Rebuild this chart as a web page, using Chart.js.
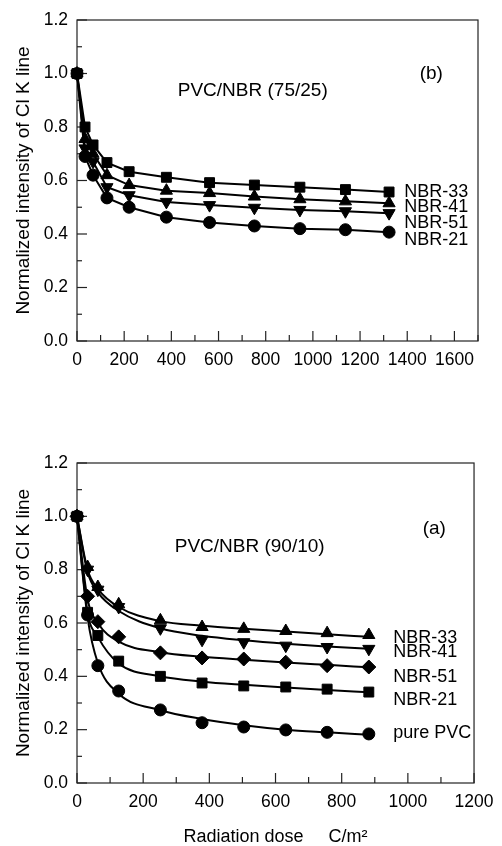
<!DOCTYPE html>
<html>
<head>
<meta charset="utf-8">
<script src="https://cdn.jsdelivr.net/npm/chart.js@4.4.0/dist/chart.umd.min.js"></script>
<style>
  html, body { margin: 0; padding: 0; background: #fff; }
  #wrap { position: relative; width: 502px; height: 846px; overflow: hidden; background: #fff; }
  canvas { position: absolute; left: 0; }
  #cTop { top: 0; }
  #cBot { top: 420px; }
</style>
</head>
<body>
<div id="wrap">
  <canvas id="cTop" width="502" height="400"></canvas>
  <canvas id="cBot" width="502" height="426"></canvas>
</div>
<script>
// ---------- DATA: panel (b) PVC/NBR (75/25) ----------
const topDose  = [0, 34, 68, 127, 221, 379, 562, 752, 945, 1138, 1323];
const topNBR33 = [1.0, 0.800, 0.733, 0.667, 0.633, 0.612, 0.592, 0.583, 0.575, 0.566, 0.557];
const topNBR41 = [1.0, 0.755, 0.700, 0.620, 0.583, 0.562, 0.553, 0.540, 0.530, 0.522, 0.515];
const topNBR51 = [1.0, 0.720, 0.670, 0.575, 0.545, 0.520, 0.508, 0.498, 0.490, 0.485, 0.478];
const topNBR21 = [1.0, 0.690, 0.620, 0.535, 0.500, 0.463, 0.443, 0.430, 0.420, 0.416, 0.407];

// ---------- DATA: panel (a) PVC/NBR (90/10) — measured points ----------
const botDose    = [0, 32, 63, 126, 252, 378, 504, 631, 756, 882];
const botNBR33   = [1.0, 0.810, 0.735, 0.670, 0.610, 0.585, 0.578, 0.570, 0.562, 0.555];
const botNBR41   = [1.0, 0.800, 0.725, 0.660, 0.580, 0.537, 0.528, 0.515, 0.510, 0.503];
const botNBR51   = [1.0, 0.700, 0.605, 0.548, 0.488, 0.469, 0.465, 0.453, 0.440, 0.435];
const botNBR21   = [1.0, 0.640, 0.553, 0.457, 0.400, 0.375, 0.364, 0.360, 0.352, 0.341];
const botPurePVC = [1.0, 0.630, 0.440, 0.345, 0.274, 0.226, 0.210, 0.199, 0.190, 0.184];

// ---------- panel (a) fitted curves at the same doses ----------
const fitNBR33   = [1.0, 0.800, 0.728, 0.660, 0.607, 0.590, 0.578, 0.568, 0.558, 0.548];
const fitNBR41   = [1.0, 0.790, 0.715, 0.645, 0.580, 0.552, 0.535, 0.522, 0.512, 0.503];
const fitNBR51   = [1.0, 0.690, 0.600, 0.530, 0.490, 0.473, 0.462, 0.452, 0.443, 0.434];
const fitNBR21   = [1.0, 0.640, 0.548, 0.448, 0.400, 0.380, 0.368, 0.358, 0.349, 0.340];
const fitPurePVC = [1.0, 0.620, 0.450, 0.335, 0.273, 0.240, 0.217, 0.200, 0.190, 0.181];

// ---------- TEXT ----------
const yTitle = 'Normalized intensity of Cl K line';
const xTitle = 'Radiation dose     C/m\u00B2';
const topNotes = [
  { text: 'PVC/NBR (75/25)', x: 745, y: 0.935, align: 'center', size: 19 },
  { text: '(b)',             x: 1502, y: 1.00, align: 'center', size: 19 },
  { text: 'NBR-33',          x: 1387, y: 0.557, align: 'left', size: 18 },
  { text: 'NBR-41',          x: 1387, y: 0.500, align: 'left', size: 18 },
  { text: 'NBR-51',          x: 1387, y: 0.441, align: 'left', size: 18 },
  { text: 'NBR-21',          x: 1387, y: 0.378, align: 'left', size: 18 }
];
const botNotes = [
  { text: 'PVC/NBR (90/10)', x: 522, y: 0.885, align: 'center', size: 19 },
  { text: '(a)',             x: 1080, y: 0.952, align: 'center', size: 19 },
  { text: 'NBR-33',          x: 956, y: 0.544, align: 'left', size: 18 },
  { text: 'NBR-41',          x: 956, y: 0.491, align: 'left', size: 18 },
  { text: 'NBR-51',          x: 956, y: 0.397, align: 'left', size: 18 },
  { text: 'NBR-21',          x: 956, y: 0.311, align: 'left', size: 18 },
  { text: 'pure PVC',        x: 956, y: 0.187, align: 'left', size: 18 }
];

const FONT = "'Liberation Sans', Arial, Helvetica, sans-serif";

function pts(xs, ys) { return xs.map((v, i) => ({ x: v, y: ys[i] })); }

// markers (and optionally a straight polyline through them)
function ds(label, xs, ys, style, radius, rotation, withLine) {
  return {
    label: label,
    data: pts(xs, ys),
    showLine: withLine,
    borderColor: '#000',
    backgroundColor: '#000',
    borderWidth: 2,
    pointStyle: style,
    pointRadius: radius,
    pointRotation: rotation,
    pointBackgroundColor: '#000',
    pointBorderColor: '#000',
    pointBorderWidth: 1,
    tension: 0,
    clip: false,
    fill: false
  };
}

// smooth fitted curve, no markers
function fit(label, xs, ys) {
  return {
    label: label + ' fit',
    data: pts(xs, ys),
    borderColor: '#000',
    borderWidth: 2,
    pointRadius: 0,
    cubicInterpolationMode: 'monotone',
    clip: false,
    fill: false
  };
}

const framePlugin = {
  id: 'frame',
  beforeDatasetsDraw(chart) {
    const { ctx, chartArea: a, scales: { x, y } } = chart;
    ctx.save();
    ctx.strokeStyle = '#222';
    ctx.lineWidth = 1.2;
    ctx.strokeRect(a.left, a.top, a.right - a.left, a.bottom - a.top);
    x.ticks.forEach(t => {
      const px = x.getPixelForValue(t.value);
      const major = Math.round(t.value) % 200 === 0;
      const len = major ? 10 : 6;
      ctx.beginPath(); ctx.moveTo(px, a.bottom); ctx.lineTo(px, a.bottom - len); ctx.stroke();
    });
    y.ticks.forEach(t => {
      const py = y.getPixelForValue(t.value);
      const major = Math.round(t.value * 10) % 2 === 0;
      const len = major ? 10 : 5;
      ctx.beginPath(); ctx.moveTo(a.left, py); ctx.lineTo(a.left + len, py); ctx.stroke();
    });
    ctx.restore();
  },
  afterDraw(chart, args, opts) {
    const { ctx, scales: { x, y } } = chart;
    ctx.save();
    ctx.fillStyle = '#000';
    ctx.textBaseline = 'middle';
    (opts.notes || []).forEach(n => {
      ctx.font = n.size + 'px ' + FONT;
      ctx.textAlign = n.align;
      ctx.fillText(n.text, x.getPixelForValue(n.x), y.getPixelForValue(n.y));
    });
    ctx.restore();
  }
};

function makeChart(id, datasets, xMax, notes, padTop, padRight, xHeight, showXTitle, xLabelMax) {
  return new Chart(document.getElementById(id), {
    type: 'line',
    data: { datasets: datasets },
    plugins: [framePlugin],
    options: {
      responsive: false,
      animation: false,
      layout: { padding: { top: padTop, right: padRight, left: 0, bottom: 0 } },
      plugins: {
        legend: { display: false },
        tooltip: { enabled: false },
        frame: { notes: notes }
      },
      scales: {
        x: {
          type: 'linear', min: 0, max: xMax,
          grid: { display: false, drawTicks: false },
          border: { display: false },
          ticks: {
            stepSize: 100, autoSkip: false, maxRotation: 0, padding: 8.5, color: '#000',
            font: { family: FONT, size: 17.5, lineHeight: 1.2 },
            callback: v => (Math.round(v) % 200 === 0 && v <= xLabelMax) ? String(Math.round(v)) : ''
          },
          title: {
            display: showXTitle, text: xTitle, color: '#000',
            font: { family: FONT, size: 18, lineHeight: 1 },
            padding: { top: 0, bottom: 0 }
          },
          afterFit: s => { s.height = xHeight; }
        },
        y: {
          type: 'linear', min: 0, max: 1.2,
          grid: { display: false, drawTicks: false },
          border: { display: false },
          ticks: {
            stepSize: 0.1, autoSkip: false, padding: 9, color: '#000',
            font: { family: FONT, size: 17.5, lineHeight: 1.2 },
            callback: v => (Math.round(v * 10) % 2 === 0) ? v.toFixed(1) : ''
          },
          title: {
            display: true, text: yTitle, color: '#000',
            font: { family: FONT, size: 19, lineHeight: 1 },
            padding: { top: 14.5, bottom: 0 }
          },
          afterFit: s => { s.width = 77; }
        }
      }
    }
  });
}

makeChart('cTop', [
  ds('NBR-33', topDose, topNBR33, 'rect', 7, 0, true),
  ds('NBR-41', topDose, topNBR41, 'triangle', 7, 0, true),
  ds('NBR-51', topDose, topNBR51, 'triangle', 7, 180, true),
  ds('NBR-21', topDose, topNBR21, 'circle', 6, 0, true)
], 1700, topNotes, 20, 24, 59, false, 1600);

makeChart('cBot', [
  fit('NBR-33', botDose, fitNBR33),
  fit('NBR-41', botDose, fitNBR41),
  fit('NBR-51', botDose, fitNBR51),
  fit('NBR-21', botDose, fitNBR21),
  fit('pure PVC', botDose, fitPurePVC),
  ds('NBR-33', botDose, botNBR33, 'triangle', 7, 0, false),
  ds('NBR-41', botDose, botNBR41, 'triangle', 7, 180, false),
  ds('NBR-51', botDose, botNBR51, 'rectRot', 7, 0, false),
  ds('NBR-21', botDose, botNBR21, 'rect', 7, 0, false),
  ds('pure PVC', botDose, botPurePVC, 'circle', 6, 0, false)
], 1200, botNotes, 43, 22, 63, true, 1200);
</script>
</body>
</html>
